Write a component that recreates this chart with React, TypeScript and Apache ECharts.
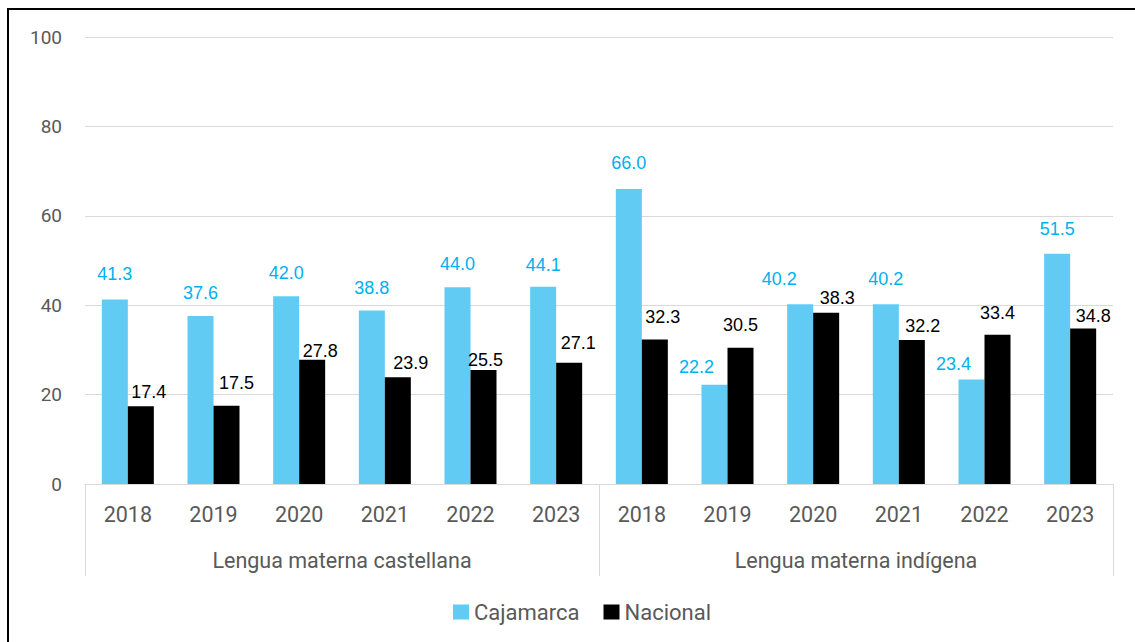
import React, { useEffect, useRef } from "react";
import * as echarts from "echarts";

const years = ["2018", "2019", "2020", "2021", "2022", "2023", "2018", "2019", "2020", "2021", "2022", "2023"];
const groups = ["Lengua materna castellana", "Lengua materna indígena"];
const cajamarca = [41.3, 37.6, 42.0, 38.8, 44.0, 44.1, 66.0, 22.2, 40.2, 40.2, 23.4, 51.5];
const nacional = [17.4, 17.5, 27.8, 23.9, 25.5, 27.1, 32.3, 30.5, 38.3, 32.2, 33.4, 34.8];

// label placement (style only): gap above bar top and horizontal shift, as in the reference
const cajLabelGap = [16, 14, 14, 14, 14, 13, 17, 9, 16, 16, 6, 16];
const cajLabelShift = [0, 0, 0, 0, 0, 0, 0, -18, -21, 0, -18, 0];
const nacLabelGap = [5, 14, 0, 5, 1, 11, 14, 14, 6, 5, 13, 3];
const nacLabelShift = [8, 10, 8, 13, 2, 9, 8, 0, 11, 11, 0, 10];

const AXIS_FONT = "Roboto, 'Noto Sans', sans-serif";
const LABEL_FONT = "'Liberation Sans', Arial, sans-serif";

export default function App() {
  const ref = useRef<HTMLDivElement>(null);
  useEffect(() => {
    if (!ref.current) return;
    const chart = echarts.init(ref.current, null, { renderer: "svg" });
    const fmt = (p: any) => Number(p.value).toFixed(1);
    chart.setOption({
      animation: false,
      backgroundColor: "#ffffff",
      grid: { left: 85, right: 22, top: 37, bottom: 158, containLabel: false },
      legend: {
        top: 596,
        left: 448,
        itemWidth: 16,
        itemHeight: 15,
        itemGap: 24,
        icon: "rect",
        textStyle: { fontSize: 22, color: "#595959", fontFamily: AXIS_FONT },
        data: ["Cajamarca", "Nacional"],
      },
      xAxis: [
        {
          type: "category",
          data: years,
          position: "bottom",
          axisLine: { show: true, lineStyle: { color: "#D9D9D9", width: 1 } },
          axisTick: { show: false },
          axisLabel: { margin: 19, fontSize: 21.5, color: "#595959", fontFamily: AXIS_FONT, interval: 0 },
        },
        {
          type: "category",
          data: groups,
          position: "bottom",
          axisLine: { show: false },
          axisTick: { show: true, length: 92, lineStyle: { color: "#D9D9D9", width: 1 } },
          axisLabel: { margin: 65, fontSize: 21.5, color: "#595959", fontFamily: AXIS_FONT, interval: 0 },
        },
      ],
      yAxis: {
        type: "value",
        min: 0,
        max: 100,
        interval: 20,
        axisLine: { show: false },
        axisTick: { show: false },
        splitLine: { lineStyle: { color: "#D9D9D9", width: 1 } },
        axisLabel: { margin: 23, fontSize: 19, color: "#595959", fontFamily: AXIS_FONT },
      },
      series: [
        {
          name: "Cajamarca",
          type: "bar",
          xAxisIndex: 0,
          data: cajamarca.map((v, i) => ({
            value: v,
            label: { distance: cajLabelGap[i], offset: [cajLabelShift[i], 0] },
          })),
          barWidth: 26,
          barGap: "0%",
          itemStyle: { color: "#61CBF3" },
          label: {
            show: true,
            position: "top",
            color: "#00B0F0",
            fontSize: 18,
            fontFamily: LABEL_FONT,
            formatter: fmt,
          },
        },
        {
          name: "Nacional",
          type: "bar",
          xAxisIndex: 0,
          data: nacional.map((v, i) => ({
            value: v,
            label: { distance: nacLabelGap[i], offset: [nacLabelShift[i], 0] },
          })),
          barWidth: 26,
          barGap: "0%",
          itemStyle: { color: "#000000" },
          label: {
            show: true,
            position: "top",
            color: "#000000",
            fontSize: 18,
            fontFamily: LABEL_FONT,
            formatter: fmt,
          },
        },
      ],
      graphic: [
        {
          type: "line",
          shape: { x1: 7, y1: 9, x2: 1135, y2: 9 },
          style: { stroke: "#000000", lineWidth: 2 },
        },
        {
          type: "line",
          shape: { x1: 8, y1: 8, x2: 8, y2: 642 },
          style: { stroke: "#000000", lineWidth: 2 },
        },
      ],
    });
    return () => chart.dispose();
  }, []);
  return (
    <div
      ref={ref}
      style={{ position: "absolute", left: 0, top: 0, width: 1135, height: 642 }}
    />
  );
}
